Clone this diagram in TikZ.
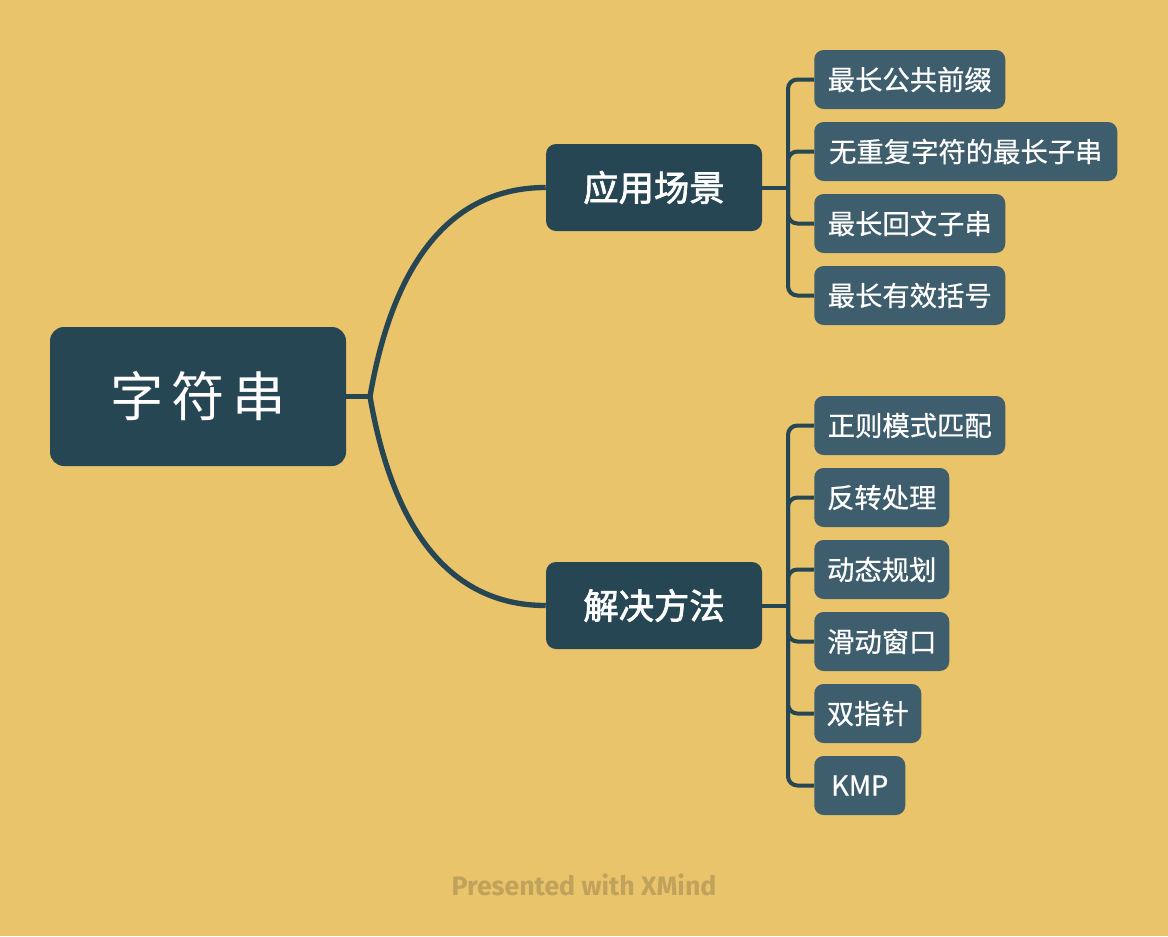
\documentclass[tikz,border=0pt]{standalone}
\usepackage{fontspec}
\newfontfamily\cjk{Noto Sans CJK SC}
\newfontfamily\cjkmid{Noto Sans CJK SC}[FakeBold=0.6]
\newfontfamily\cjkbold{Noto Sans CJK SC}[FakeBold=2]
\newfontfamily\foot{Fira Sans}
\definecolor{bg}{HTML}{E9C46A}
\definecolor{rootc}{HTML}{264653}
\definecolor{leafc}{HTML}{3F5E6D}
\definecolor{footc}{HTML}{BFA35C}
\tikzset{
  rootbox/.style={fill=rootc, text=white, rounded corners=10.5pt,
    minimum width=296*0.75pt, minimum height=139*0.75pt, inner sep=0pt,
    font=\cjk\fontsize{40pt}{40pt}\selectfont},
  topicbox/.style={fill=rootc, text=white, rounded corners=7.5pt,
    minimum width=216*0.75pt, minimum height=87*0.75pt, inner sep=0pt,
    font=\cjkbold\fontsize{26.5pt}{26.5pt}\selectfont},
  leafbox/.style={fill=leafc, text=white, rounded corners=7pt, anchor=west,
    minimum height=59*0.75pt, inner sep=0pt,
    font=\cjkmid\fontsize{20.5pt}{20.5pt}\selectfont},
  rootline/.style={draw=rootc, line width=3.3pt},
  mainline/.style={draw=rootc, line width=4pt},
  stemline/.style={draw=rootc, line width=3pt},
  leafline/.style={draw=rootc, line width=3pt, rounded corners=7pt},
}
\begin{document}
\begin{tikzpicture}[x=0.75pt, y=-0.75pt]
  \fill[bg] (0,0) rectangle (1168,936);
  \useasboundingbox (0,0) rectangle (1168,936);

  % central topic
  \node[rootbox] (root) at (198,396.5) {\raisebox{-1pt}{字\hspace{6pt}符\hspace{6pt}串}};

  % main branches
  \node[topicbox] (app) at (654,187.5) {应用场景};
  \node[topicbox] (sol) at (654,605.5) {解决方法};

  \coordinate (rj) at (370,396.5);
  \draw[rootline] (root.east) -- (rj);
  \draw[mainline] (rj) .. controls (390,280) and (440,187.5) .. (app.west);
  \draw[mainline] (rj) .. controls (390,513) and (440,605.5) .. (sol.west);

  % leaves of the first branch
  \node[leafbox, minimum width=191*0.75pt] (a1) at (814,79.5) {最长公共前缀};
  \node[leafbox, minimum width=303*0.75pt] (a2) at (814,151.5) {无重复字符的最长子串};
  \node[leafbox, minimum width=191*0.75pt] (a3) at (814,223.5) {最长回文子串};
  \node[leafbox, minimum width=191*0.75pt] (a4) at (814,295.5) {最长有效括号};

  \coordinate (ja) at (788,187.5);
  \draw[stemline] (app.east) -- (ja);
  \foreach \n in {a1,a2,a3,a4} \draw[leafline] (ja) |- (\n.west);

  % leaves of the second branch
  \node[leafbox, minimum width=191*0.75pt] (b1) at (814,425.5) {正则模式匹配};
  \node[leafbox, minimum width=135*0.75pt] (b2) at (814,497.5) {反转处理};
  \node[leafbox, minimum width=135*0.75pt] (b3) at (814,569.5) {动态规划};
  \node[leafbox, minimum width=135*0.75pt] (b4) at (814,641.5) {滑动窗口};
  \node[leafbox, minimum width=107*0.75pt] (b5) at (814,713.5) {双指针};
  \node[leafbox, minimum width=91*0.75pt] (b6) at (814,785.5) {KMP};

  \coordinate (jb) at (788,605.5);
  \draw[stemline] (sol.east) -- (jb);
  \foreach \n in {b1,b2,b3,b4,b5,b6} \draw[leafline] (jb) |- (\n.west);

  % footer
  \node[text=footc, font=\foot\bfseries\fontsize{20pt}{20pt}\selectfont] (foot) at (584,885) {Presented with XMind};
\end{tikzpicture}
\end{document}
